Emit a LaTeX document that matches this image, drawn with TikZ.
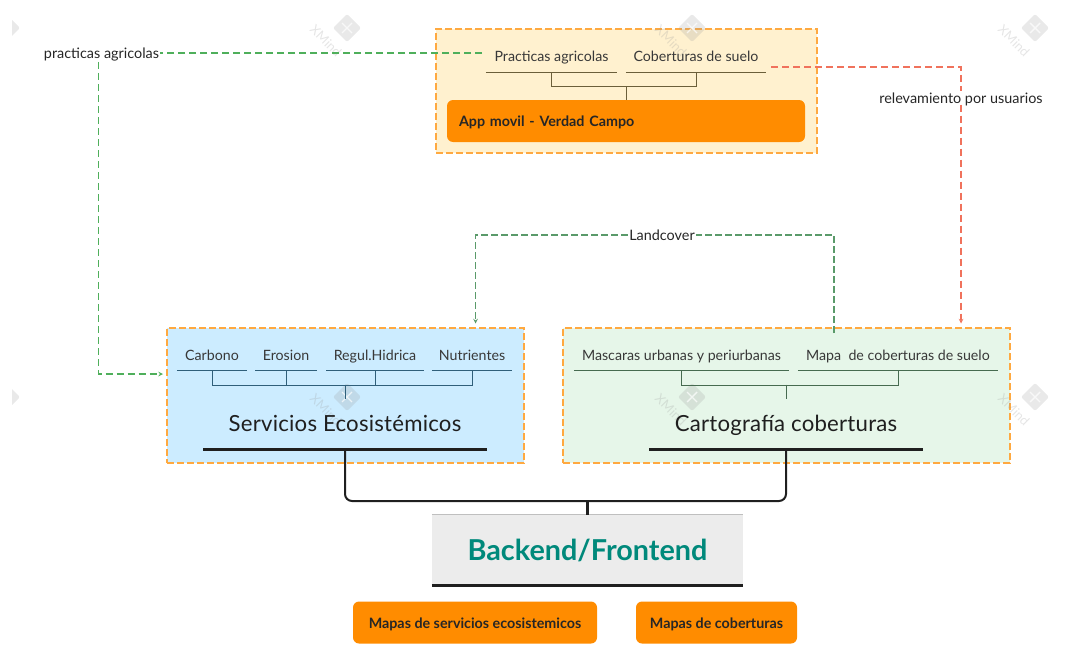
\documentclass[tikz,border=0pt]{standalone}
\usepackage{fontspec}
\setmainfont{Lato}
\usetikzlibrary{arrows}
\definecolor{panelline}{HTML}{FFA940}
\definecolor{panelyellow}{HTML}{FFF1CF}
\definecolor{panelblue}{HTML}{CCECFF}
\definecolor{panelgreen}{HTML}{E6F6E9}
\definecolor{orangebox}{HTML}{FF8C00}
\definecolor{linkgreen}{HTML}{4FAF5B}
\definecolor{linkdark}{HTML}{5A9A6A}
\definecolor{linkred}{HTML}{F0725C}
\definecolor{stemyellow}{HTML}{6B5F3A}
\definecolor{stemblue}{HTML}{2F5F7A}
\definecolor{stemgreen}{HTML}{466B50}
\definecolor{tealtext}{HTML}{00897B}
\definecolor{greybox}{HTML}{ECECEC}
\tikzset{
  panel/.style={draw=panelline,line width=1.2pt,dash pattern=on 7pt off 3pt,inner sep=0pt},
  subtopic/.style={inner sep=0pt,minimum height=30pt,text height=10pt,text depth=0pt,font=\fontsize{14.2}{16}\selectfont,text=black!78},
  maintitle/.style={inner sep=0pt,text height=17pt,text depth=0pt,font=\fontsize{22.2}{26}\selectfont\addfontfeature{LetterSpace=1},text=black!88},
  orangenode/.style={fill=orangebox,rounded corners=6pt,inner sep=0pt,text height=11pt,text depth=0pt,font=\fontsize{14.3}{16}\selectfont\bfseries,text=black!85},
  reltext/.style={inner sep=1pt,fill=white,text height=11pt,text depth=0pt,font=\fontsize{14.4}{16}\selectfont,text=black!85},
  greenlink/.style={draw=linkgreen,line width=1.1pt,dash pattern=on 7pt off 4pt},
  darklink/.style={draw=linkdark,line width=1.1pt,dash pattern=on 7pt off 3pt},
  redlink/.style={draw=linkred,line width=1.1pt,dash pattern=on 7pt off 4pt},
  wmark/.style={rotate=-45,text=black!40,opacity=.25,inner sep=0pt,font=\fontsize{13}{15}\selectfont}
}
\begin{document}
\begin{tikzpicture}[x=1pt,y=-1pt]
  \useasboundingbox (0,0) rectangle (1068,661);

  \node[panel,fill=panelyellow,minimum width=381pt,minimum height=124pt] (appbg) at (626.5,91) {};
  \node[panel,fill=panelblue,minimum width=357pt,minimum height=135pt] (ser) at (345.5,395.5) {};
  \node[panel,fill=panelgreen,minimum width=447pt,minimum height=135pt] (car) at (786.5,395.5) {};

  \begin{scope}
    \clip (12,0) rectangle (1068,661);
    \foreach \x in {6,347,692,1035}
      \foreach \y in {28,397} {
        \fill[black!40,opacity=.22,rounded corners=2pt] (\x-14,\y) -- (\x,\y-14) -- (\x+14,\y) -- (\x,\y+14) -- cycle;
        \draw[white,line width=1.4pt,opacity=.7] (\x-5,\y-5) -- (\x+5,\y+5) (\x-5,\y+5) -- (\x+5,\y-5);
      }
  \end{scope}
  \foreach \x in {347,692,1035}
    \foreach \y in {28,397}
      \node[wmark] (xm\x\y) at (\x-21,\y+13) {XMind};

  \node[subtopic,minimum width=131pt] (pa) at (551.5,57) {Practicas agricolas};
  \node[subtopic,minimum width=140pt] (cs) at (696,57) {Coberturas de suelo};
  \node[orangenode,minimum width=358pt,minimum height=42pt,text width=334pt] (app) at (626,121) {App movil - Verdad Campo};
  \draw[stemyellow] (pa.south west) -- (pa.south east);
  \draw[stemyellow] (cs.south west) -- (cs.south east);
  \draw[stemyellow] (pa.south) -- ++(0,14) -| (cs.south);
  \draw[stemyellow] (app.north) -- ++(0,-14);

  \node[subtopic,minimum width=70pt] (cb) at (212,355) {Carbono};
  \node[subtopic,minimum width=61pt] (er) at (286,355) {Erosion};
  \node[subtopic,minimum width=97pt] (rh) at (375,355) {Regul.Hidrica};
  \node[subtopic,minimum width=80pt] (nu) at (472,355) {Nutrientes};
  \node[maintitle] (st) at (345,423) {Servicios Ecosistémicos};
  \coordinate (sj) at (345,384.5);
  \foreach \n in {cb,er,rh,nu}
    \draw[stemblue] (\n.south west) -- (\n.south east);
  \draw[stemblue] (cb.south) -- ++(0,14.5) -| (nu.south);
  \draw[stemblue] (er.south) -- ++(0,14.5);
  \draw[stemblue] (rh.south) -- ++(0,14.5);
  \draw[stemblue,line width=.8pt] (sj) -- ++(0,14.5);

  \node[subtopic,minimum width=215pt] (mu) at (681.5,355) {Mascaras urbanas y periurbanas};
  \node[subtopic,minimum width=200pt] (mc) at (898,355) {Mapa\ \ de coberturas de suelo};
  \node[maintitle] (ct) at (786,423) {Cartografía coberturas};
  \coordinate (cj) at (786,384.5);
  \draw[stemgreen] (mu.south west) -- (mu.south east);
  \draw[stemgreen] (mc.south west) -- (mc.south east);
  \draw[stemgreen] (mu.south) -- ++(0,14.5) -| (mc.south);
  \draw[stemgreen] (cj) -- ++(0,14.5);

  \node[minimum width=311pt,minimum height=70pt,inner sep=0pt,fill=greybox,font=\fontsize{28.8}{32}\selectfont\bfseries,text=tealtext] (be) at (587.5,550) {Backend/Frontend};
  \draw[black!25,line width=.8pt] (be.north west) -- (be.north east);
  \draw[black!88,line width=2.6pt] (be.south west) -- (be.south east);
  \node[orangenode,minimum width=244pt,minimum height=42pt] (ms) at (475,622.5) {Mapas de servicios ecosistemicos};
  \node[orangenode,minimum width=161pt,minimum height=42pt] (mp) at (716.5,622.5) {Mapas de coberturas};

  \coordinate (sl) at (345,449.5);
  \coordinate (cl) at (786,449.5);
  \draw[black!88,line width=2.6pt] (203,449.5) -- (487,449.5);
  \draw[black!88,line width=2.6pt] (649,449.5) -- (923,449.5);
  \draw[black!88,line width=2pt,rounded corners=7pt] (sl) |- (588,501) -| (cl);
  \draw[black!88,line width=2.6pt] (be.north) -- (587.5,501);

  \node[reltext] (lp) at (101.5,53) {practicas agricolas};
  \node[reltext] (lr) at (961,98) {relevamiento por usuarios};
  \node[reltext] (lc) at (662,235) {Landcover};

  \coordinate (paout) at (482,53);
  \coordinate (csout) at (771,67);
  \coordinate (lpdown) at (98.5,62);
  \coordinate (serin) at (163,374);
  \coordinate (serup) at (475.5,323.5);
  \coordinate (carout) at (834,333);
  \coordinate (carup) at (961,323.5);

  \draw[greenlink] (paout) -- (lp.east);
  \draw[greenlink,-stealth] (lpdown) |- (serin);
  \draw[redlink] (csout) -| (lr.north);
  \draw[redlink,-stealth] (lr.south) -- (carup);
  \draw[darklink] (carout) |- (lc.east);
  \draw[darklink,-stealth] (lc.west) -| (serup);
\end{tikzpicture}
\end{document}
